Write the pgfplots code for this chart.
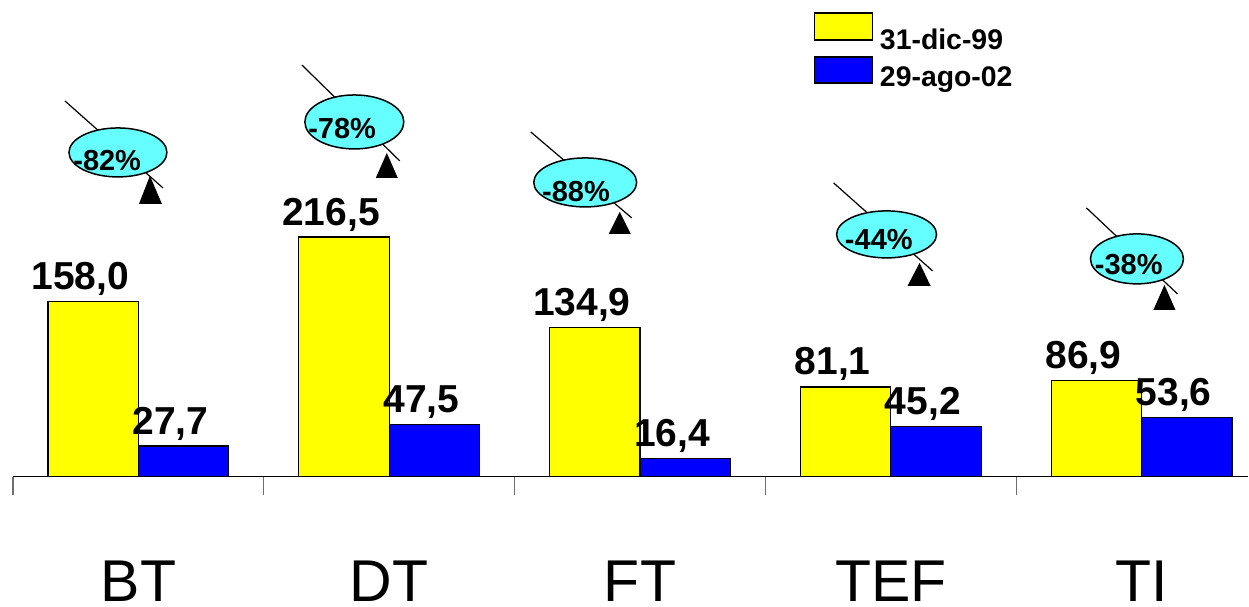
\documentclass[border=0pt]{standalone}
\usepackage{fontspec}
\setmainfont{Liberation Sans}
\usepackage{pgfplots}
\usepackage{pgfplotstable}
\pgfplotsset{compat=1.18}
\definecolor{barY}{RGB}{255,255,0}
\definecolor{barB}{RGB}{0,0,255}
\definecolor{ellC}{RGB}{102,255,255}
\definecolor{tickG}{RGB}{110,110,110}

\pgfplotstableread{
x y label
0 158.0 158,0
1 216.5 216,5
2 134.9 134,9
3 81.1 81,1
4 86.9 86,9
}\dataA
\pgfplotstableread{
x y label
0 27.7 27,7
1 47.5 47,5
2 16.4 16,4
3 45.2 45,2
4 53.6 53,6
}\dataB

\begin{document}
\begin{tikzpicture}
\begin{axis}[
  width=624.5pt, height=303.5pt, scale only axis,
  xmin=-0.55201, xmax=4.42607,
  ymin=-117.329, ymax=430.505,
  hide axis, clip=false,
  ybar, bar width=0.3607,
  nodes near coords,
  point meta=explicit symbolic,
  every node near coord/.append style={anchor=base, inner sep=0pt, yshift=6pt, xshift=-6.5pt,
     font=\bfseries\fontsize{19.5}{20}\selectfont, text=black},
]
\addplot[fill=barY, draw=black, line width=0.6pt, bar shift=-0.18] table[x=x, y=y, meta=label] {\dataA};
\addplot[fill=barB, draw=black, line width=0.6pt, bar shift=0.18] table[x=x, y=y, meta=label] {\dataB};
\path (rel axis cs:0,0) rectangle (rel axis cs:1,1);
\coordinate (TL) at (rel axis cs:0,1);
\end{axis}
\begin{scope}[shift={(TL)}, x=0.5pt, y=-0.5pt]
  % baseline and ticks
  \draw[black, line width=0.6pt] (13,477) -- (1249,477);
  \foreach \t in {13,264,515,766,1017} {
    \draw[tickG, line width=0.6pt] (\t,477) -- (\t,495);
  }
  % category labels
  \foreach \c/\lab in {138.5/BT,389.4/DT,640.3/FT,891.2/TEF,1142.1/TI} {
    \node[anchor=base, inner sep=0pt, font=\fontsize{29.5}{30}\selectfont] at (\c,602) {\lab};
  }
  % legend
  \draw[fill=barY, draw=black, line width=0.6pt] (815,13) rectangle (873,40);
  \draw[fill=barB, draw=black, line width=0.6pt] (815,57) rectangle (873,83);
  \node[anchor=base west, inner sep=0pt, font=\bfseries\fontsize{14.2}{15}\selectfont] at (880,50) {31-dic-99};
  \node[anchor=base west, inner sep=0pt, font=\bfseries\fontsize{14.2}{15}\selectfont] at (880,87) {29-ago-02};
  % annotations
  \foreach \lx/\ly/\mx/\my/\ex/\ey/\rx/\ry/\tx/\ty/\ax/\ay/\by/\bl/\br/\txt in {
    65/101/163/188/118/152.5/49/24.5/73/171/150/176/204/139/162/-82\%,
    302/65/400/161/354.5/122/49.5/27/308/139/387/153/178/376/398/-78\%,
    531/132/632/218/585.5/182.5/51.5/24.5/542/202/620/212/234/609/631/-88\%,
    834/183/933/271/887/234.5/50/23.5/845/250/920/263/286/908/931/-44\%,
    1087/208/1178/294/1137.5/259/46.5/25/1095/275/1165/285/310/1154/1176/-38\%} {
    \draw[black, line width=0.6pt] (\lx,\ly) -- (\mx,\my);
    \draw[fill=ellC, draw=black, line width=0.75pt] (\ex,\ey) ellipse [x radius=\rx, y radius=\ry];
    \node[anchor=base west, inner sep=0pt, font=\bfseries\fontsize{14.5}{15}\selectfont] at (\tx,\ty) {\txt};
    \fill[black] (\ax,\ay) -- (\br,\by) -- (\bl,\by) -- cycle;
  }
\end{scope}
\end{tikzpicture}
\end{document}
